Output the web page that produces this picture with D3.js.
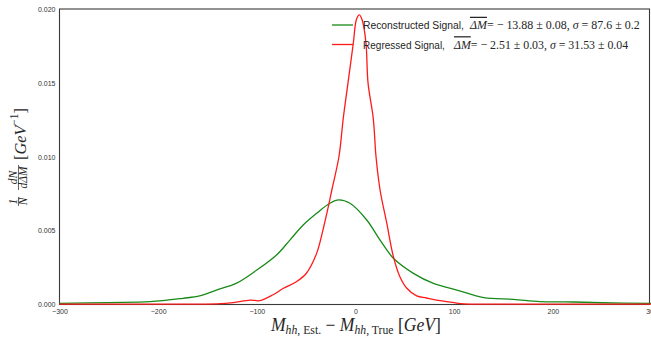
<!DOCTYPE html>
<html><head><meta charset="utf-8">
<script src="https://cdn.jsdelivr.net/npm/d3@7"></script>
<style>body{margin:0;background:#fff}svg{display:block}</style>
</head><body>
<svg id="c" width="651" height="338"></svg>
<script>
// ---- data ----
const recoX = [-300,-250,-208,-175,-158,-141,-121,-100,-80,-66.5,-53,-39.4,-26,-17,-5.6,11.4,24.9,38.4,58.7,79,102.7,130,160,187,220,250,300];
const recoY = [0.00008,0.00013,0.00019,0.00042,0.00058,0.00098,0.00143,0.00233,0.00335,0.00436,0.00538,0.00617,0.00685,0.00708,0.00685,0.00572,0.00436,0.00313,0.00211,0.00143,0.00098,0.00046,0.00035,0.00019,0.00017,0.00012,0.00008];
const regX = [-300,-250,-200,-160,-141,-124,-107,-97,-84,-73,-60,-50,-39.4,-33,-27.6,-24,-16.8,-12.4,-7.6,-2.2,1,3.9,7,10.6,12.7,18,20.8,24.9,31.7,38.4,45,52,62,72,86,100,110,130,160,200,250,300];
const regY = [0.00002,0.00002,0.00002,0.00003,0.00004,0.00012,0.0003,0.00026,0.00064,0.0011,0.00154,0.0021,0.00346,0.00504,0.0066,0.00775,0.0100,0.0126,0.0150,0.0177,0.0193,0.0196,0.0192,0.0177,0.0150,0.0126,0.0100,0.00775,0.0055,0.00324,0.00188,0.0011,0.00058,0.00044,0.00026,0.00012,0.00004,0.00002,0.00002,0.00002,0.00002,0.00002];
const xTicks = [-300,-200,-100,0,100,200,300];
const yTicks = [0.000,0.005,0.010,0.015,0.020];
const seriesNames = ["Reconstructed Signal,", "Regressed Signal,"];
const seriesStats = [["−13.88", "0.08", "87.6", "0.2"], ["−2.51", "0.03", "31.53", "0.04"]];
const seriesColors = ["#188a18", "#ff1a1a"];

const svg = d3.select("#c");
const L = 59.5, R = 651.5, T = 9, B = 304.5;
const x = d3.scaleLinear().domain([-300,300]).range([L,R]);
const y = d3.scaleLinear().domain([0,0.02]).range([B,T]);

// fit a text group horizontally to a target width by scaling
function fitGroup(g, x0, y0, width){
  const bb = g.node().getBBox();
  const s = width / bb.width;
  g.attr("transform", `translate(${x0 - bb.x*s},${y0}) scale(${s},1)`);
}

// frame
svg.append("rect").attr("x",L).attr("y",T).attr("width",R-L-2).attr("height",B-T)
  .attr("fill","none").attr("stroke","#3a3a3a").attr("stroke-width",1.1);

// tick labels (no tick marks, seaborn white)
const xa = svg.append("g").attr("transform",`translate(0,${B})`)
  .call(d3.axisBottom(x).tickValues(xTicks).tickSize(0).tickPadding(5).tickFormat(d => d<0 ? "−"+Math.abs(d) : d));
const ya = svg.append("g").attr("transform",`translate(${L},0)`)
  .call(d3.axisLeft(y).tickValues(yTicks).tickSize(0).tickPadding(4).tickFormat(d3.format(".3f")));
[xa,ya].forEach(a=>{a.select(".domain").remove();
  a.selectAll("text").attr("font-family","Liberation Sans, Arial, sans-serif").attr("font-size",7).attr("fill","#333");});

// curves
const line = d3.line().x(d=>x(d[0])).y(d=>y(d[1])).curve(d3.curveCatmullRom.alpha(0.5));
svg.append("path").datum(d3.zip(recoX,recoY)).attr("d",line).attr("fill","none")
  .attr("stroke",seriesColors[0]).attr("stroke-width",1.3);
svg.append("path").datum(d3.zip(regX,regY)).attr("d",line).attr("fill","none")
  .attr("stroke",seriesColors[1]).attr("stroke-width",1.3);

// legend
const serif = "Liberation Serif, Times New Roman, serif";
const sansEnd = [464, 445], mathStart = [469, 453], mathEnd = [640, 629];
seriesNames.forEach((n,i)=>{
  const yy = 25 + i*19.5;
  svg.append("line").attr("x1",332).attr("x2",353).attr("y1",yy).attr("y2",yy)
    .attr("stroke",seriesColors[i]).attr("stroke-width",1.3);
  const gs = svg.append("g");
  gs.append("text").attr("x",0).attr("y",0).attr("font-size",11.5)
    .attr("fill","#262626").attr("font-family","Liberation Sans, Arial, sans-serif").text(n);
  fitGroup(gs, 363, yy+4, sansEnd[i]-363);
  const s = seriesStats[i];
  const gm = svg.append("g");
  const t = gm.append("text").attr("x",0).attr("y",0).attr("font-size",12.5)
    .attr("fill","#262626").attr("font-family",serif);
  t.append("tspan").attr("font-style","italic").attr("text-decoration","overline").text("ΔM");
  t.append("tspan").text(`= − ${s[0].slice(1)} ± ${s[1]}, `);
  t.append("tspan").attr("font-style","italic").text("σ");
  t.append("tspan").text(` = ${s[2]} ± ${s[3]}`);
  fitGroup(gm, mathStart[i], yy+4, mathEnd[i]-mathStart[i]);
});

// x label
const gx = svg.append("g");
const xl = gx.append("text").attr("x",0).attr("y",0)
  .attr("font-family",serif).attr("font-size",18).attr("fill","#262626");
xl.append("tspan").attr("font-style","italic").text("M");
xl.append("tspan").attr("font-size",12).attr("dy",3).attr("font-style","italic").text("hh");
xl.append("tspan").attr("font-size",12).text(", Est.");
xl.append("tspan").attr("dy",-3).text(" − ");
xl.append("tspan").attr("font-style","italic").text("M");
xl.append("tspan").attr("font-size",12).attr("dy",3).attr("font-style","italic").text("hh");
xl.append("tspan").attr("font-size",12).text(", True");
xl.append("tspan").attr("dy",-3).text("  [");
xl.append("tspan").attr("font-style","italic").text("GeV");
xl.append("tspan").text("]");
fitGroup(gx, 270, 331, 171);

// y label (rotated)
const yl = svg.append("g").attr("transform","translate(27,158) rotate(-90)").attr("fill","#262626").attr("font-family",serif);
function frac(g, cx, w, num, den, fs){
  g.append("text").attr("x",cx).attr("y",-10.5).attr("text-anchor","middle").attr("font-size",fs).attr("font-style","italic").text(num);
  g.append("line").attr("x1",cx-w/2).attr("x2",cx+w/2).attr("y1",-8.5).attr("y2",-8.5).attr("stroke","#262626").attr("stroke-width",0.7);
  g.append("text").attr("x",cx).attr("y",0).attr("text-anchor","middle").attr("font-size",fs).attr("font-style","italic").text(den);
}
frac(yl,-43.5,9,"1","N",11.5);
frac(yl,-19.5,25,"dN","dΔM",11.5);
const gb = yl.append("g");
const br = gb.append("text").attr("x",0).attr("y",0).attr("font-size",17);
br.append("tspan").text("[");
br.append("tspan").attr("font-style","italic").text("GeV");
br.append("tspan").attr("font-size",12).attr("dy",-8).text("−1");
br.append("tspan").attr("dy",8).text("]");
fitGroup(gb, -2, -1, 52);
</script>
</body></html>
